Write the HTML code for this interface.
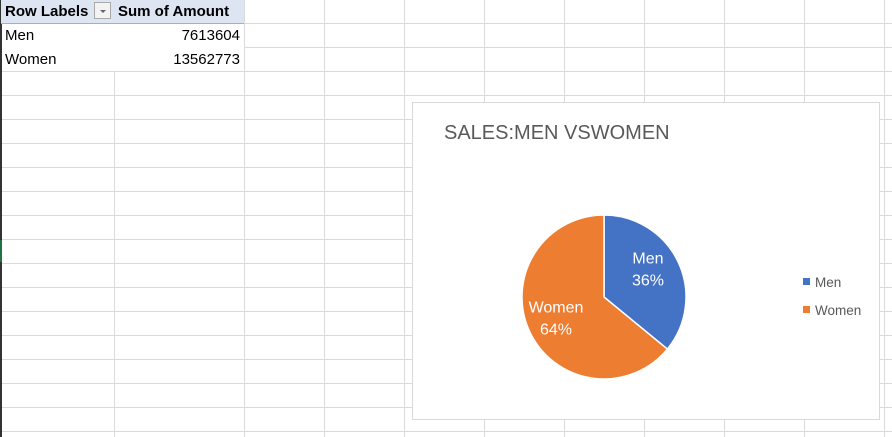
<!DOCTYPE html>
<html><head><meta charset="utf-8"><style>
body{margin:0;width:892px;height:437px;overflow:hidden;background:#fff;font-family:"Liberation Sans",Calibri,sans-serif;position:relative}
.abs{position:absolute}
</style></head><body>
<svg class="abs" style="left:0;top:0" width="892" height="437" id="grid"></svg>
<div class="abs" style="left:1px;top:0;width:243px;height:23px;background:#dde4f2;border-bottom:1px solid #9bb0d8"></div>
<div class="abs" style="left:5px;top:3px;font-size:15px;font-weight:bold;color:#000">Row Labels</div>
<div class="abs" style="left:94px;top:2px;width:17px;height:17px;background:#f3f3f3;border:1px solid #aaa;box-sizing:border-box"><div style="position:absolute;left:5px;top:7px;width:0;height:0;border-left:3px solid transparent;border-right:3px solid transparent;border-top:3px solid #666"></div></div>
<div class="abs" style="left:118px;top:3px;font-size:15px;font-weight:bold;color:#000;white-space:nowrap">Sum of Amount</div>
<div class="abs" style="left:5px;top:27px;font-size:15px">Men</div>
<div class="abs" style="left:120px;width:120px;text-align:right;top:27px;font-size:15px">7613604</div>
<div class="abs" style="left:5px;top:51px;font-size:15px">Women</div>
<div class="abs" style="left:120px;width:120px;text-align:right;top:51px;font-size:15px">13562773</div>
<div class="abs" style="left:412px;top:102px;width:468px;height:318px;background:#fff;border:1px solid #d9d9d9;box-sizing:border-box"></div>
<div class="abs" style="left:444px;top:122px;font-size:20px;color:#595959;white-space:nowrap">SALES:MEN VSWOMEN</div>
<svg class="abs" style="left:0;top:0" width="892" height="437" id="pie"></svg>
<script>
const categories=["Men","Women"];
const values=[7613604,13562773];
const colors=["#4472c4","#ed7d31"];
const NS="http://www.w3.org/2000/svg";
const g=document.getElementById('grid');
function ln(x1,y1,x2,y2,c,w){const l=document.createElementNS(NS,'line');l.setAttribute('x1',x1);l.setAttribute('y1',y1);l.setAttribute('x2',x2);l.setAttribute('y2',y2);l.setAttribute('stroke',c);l.setAttribute('stroke-width',w||1);


g.appendChild(l);}
[244.5,324.5,404.5,484.5,564.5,644.5,724.5,804.5,884.5].forEach(x=>ln(x,0,x,437,'#dadada'));
ln(114.5,71,114.5,437,'#dadada');
for(let y=23.5;y<437;y+=24){ln(y<72?244:0,y,892,y,'#dadada');}
ln(0,71.5,244,71.5,'#dadada');
ln(1,0,1,437,'#333',2);
ln(1,240,1,262,'#217346',2);
const p=document.getElementById('pie');
const cx=604,cy=297,r=82;
const total=values.reduce((a,b)=>a+b,0);
let a0=-Math.PI/2;
values.forEach((v,i)=>{
  const a1=a0+v/total*2*Math.PI;
  const x0=cx+r*Math.cos(a0),y0=cy+r*Math.sin(a0),x1=cx+r*Math.cos(a1),y1=cy+r*Math.sin(a1);
  const large=(a1-a0)>Math.PI?1:0;
  const path=document.createElementNS(NS,'path');
  path.setAttribute('d',`M${cx},${cy}L${x0},${y0}A${r},${r} 0 ${large} 1 ${x1},${y1}Z`);
  path.setAttribute('fill',colors[i]);path.setAttribute('stroke','#fff');path.setAttribute('stroke-width','1.5');
  
  
  p.appendChild(path);
  const am=(a0+a1)/2, lr=r*0.62;
  const tx=cx+lr*Math.cos(am)-2, ty=cy+lr*Math.sin(am)-(i===0?6:0);
  [[categories[i],-6],[Math.round(v/total*100)+'%',16]].forEach(([s,dy],k)=>{
    const t=document.createElementNS(NS,'text');
    t.setAttribute('x',tx);t.setAttribute('y',ty+dy);t.setAttribute('text-anchor','middle');
    t.setAttribute('fill','#fff');t.setAttribute('font-size','16');t.setAttribute('font-family','Liberation Sans, sans-serif');
    t.textContent=s;
    
    
    p.appendChild(t);
  });
  const ly=282+i*28;
  const sq=document.createElementNS(NS,'rect');
  sq.setAttribute('x',803);sq.setAttribute('y',ly-4);sq.setAttribute('width',7);sq.setAttribute('height',7);sq.setAttribute('fill',colors[i]);
  
  
  p.appendChild(sq);
  const lt=document.createElementNS(NS,'text');
  lt.setAttribute('x',815);lt.setAttribute('y',ly+5);lt.setAttribute('fill','#595959');lt.setAttribute('font-size','13.5');lt.setAttribute('font-family','Liberation Sans, sans-serif');
  lt.textContent=categories[i];
  
  
  p.appendChild(lt);
  a0=a1;
});
</script>
</body></html>
